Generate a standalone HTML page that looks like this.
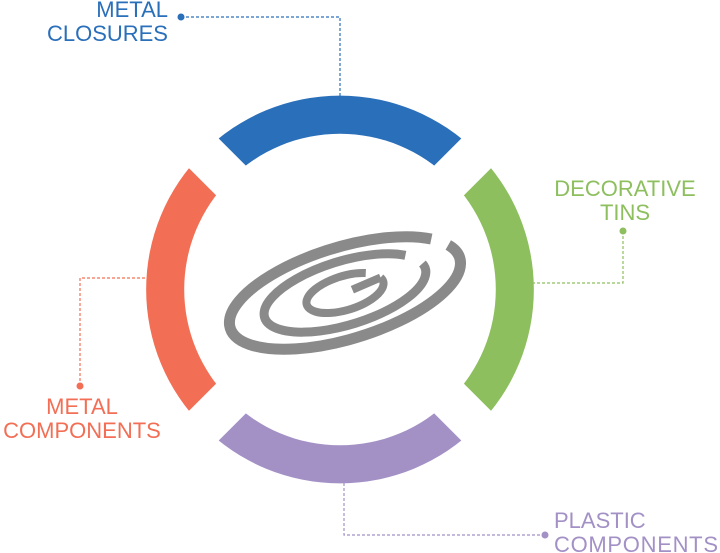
<!DOCTYPE html>
<html><head><meta charset="utf-8"><style>
html,body{margin:0;padding:0;background:#fff;width:720px;height:553px;overflow:hidden}
svg{display:block}
text{font-family:"Liberation Sans",sans-serif;font-size:22px}
</style></head><body>
<svg width="720" height="553" viewBox="0 0 720 553">
<defs>
<mask id="m" maskUnits="userSpaceOnUse" x="0" y="0" width="720" height="553">
<rect width="720" height="553" fill="#fff"/>
<g transform="translate(340,289.5)">
<rect x="-300" y="-21" width="600" height="42" fill="#000" transform="rotate(45)"/>
<rect x="-300" y="-21" width="600" height="42" fill="#000" transform="rotate(-45)"/>
</g>
</mask>
</defs>
<g mask="url(#m)">
<g transform="translate(340,289.5)">
<path d="M-137,-137 A193.5,193.5 0 0 1 137,-137 L110,-110 A155,155 0 0 0 -110,-110 Z" fill="#2a6fba"/>
<path d="M137,-137 A193.5,193.5 0 0 1 137,137 L110,110 A155,155 0 0 0 110,-110 Z" fill="#8dbf5f"/>
<path d="M137,137 A193.5,193.5 0 0 1 -137,137 L-110,110 A155,155 0 0 0 110,110 Z" fill="#a391c6"/>
<path d="M-137,137 A193.5,193.5 0 0 1 -137,-137 L-110,-110 A155,155 0 0 0 -110,110 Z" fill="#f26f55"/>
</g>
</g>
<!-- logo -->
<g fill="none" stroke="#8a8a8a" transform="translate(345,293) rotate(-17)">
<path d="M112.8,-15.7 A120,46 0 1 1 98.3,-26.4" stroke-width="11"/>
<path d="M82.7,-5.6 A84,32 0 1 1 68.8,-18.4" stroke-width="9"/>
<path d="M38.6,-4.4 A40,17 0 1 1 25.7,-13 M38.6,-4.4 L8,-1" stroke-width="8"/>
</g>
<!-- connectors -->
<g fill="none" stroke-width="1.2" stroke-dasharray="3,2">
<path d="M181,17 H340 V96" stroke="#2a6fba"/>
<path d="M623,231 V283 H532" stroke="#8dbf5f"/>
<path d="M80,386 V278 H148" stroke="#f26f55"/>
<path d="M344,483 V535 H545" stroke="#a391c6"/>
</g>
<circle cx="181" cy="17" r="3.5" fill="#2a6fba"/>
<circle cx="623" cy="231" r="3.5" fill="#8dbf5f"/>
<circle cx="80" cy="386" r="3.5" fill="#f26f55"/>
<circle cx="545" cy="535" r="3.5" fill="#a391c6"/>
<g fill="#2a6fba" text-anchor="end"><text x="168" y="17">METAL</text><text x="168" y="41">CLOSURES</text></g>
<g fill="#8dbf5f" text-anchor="middle"><text x="625" y="196">DECORATIVE</text><text x="625" y="220">TINS</text></g>
<g fill="#f26f55" text-anchor="middle"><text x="82" y="414">METAL</text><text x="82" y="438">COMPONENTS</text></g>
<g fill="#a391c6"><text x="554" y="528">PLASTIC</text><text x="554" y="552" textLength="164">COMPONENTS</text></g>
</svg>
</body></html>
